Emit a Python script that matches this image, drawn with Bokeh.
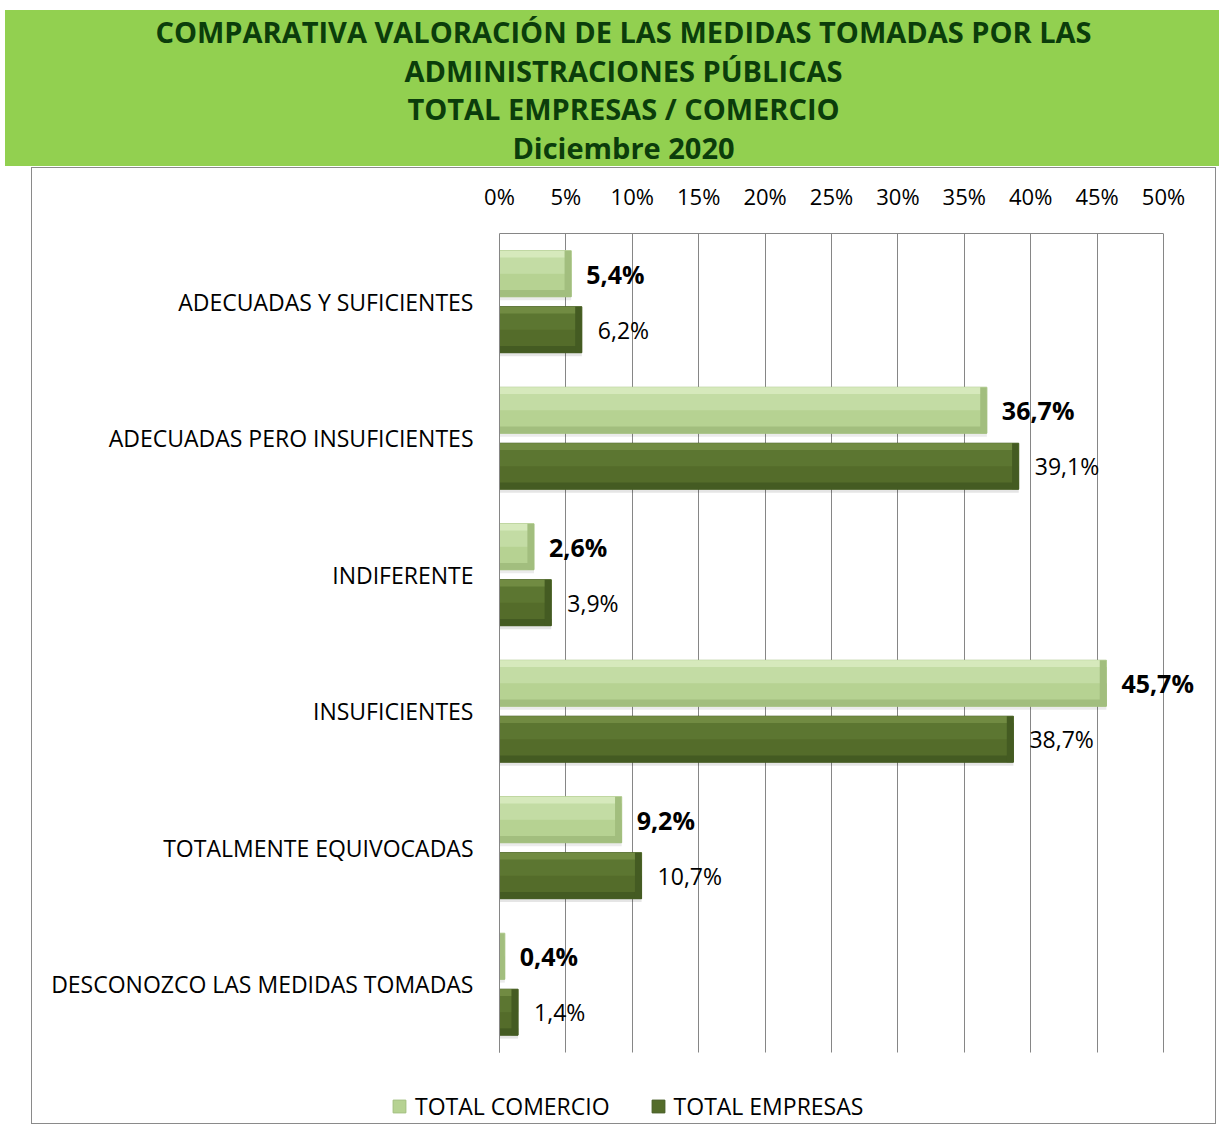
from bokeh.plotting import figure
from bokeh.models import (ColumnDataSource, Range1d, FixedTicker, Legend, LegendItem,
                          Div, Spacer, Grid)
from bokeh.layouts import column, row
from bokeh.core.properties import value
from bokeh.embed import file_html
from bokeh.resources import INLINE

# ---- data ----
categories = ["ADECUADAS Y SUFICIENTES", "ADECUADAS PERO INSUFICIENTES", "INDIFERENTE",
              "INSUFICIENTES", "TOTALMENTE EQUIVOCADAS", "DESCONOZCO LAS MEDIDAS TOMADAS"]
comercio = [5.4, 36.7, 2.6, 45.7, 9.2, 0.4]
empresas = [6.2, 39.1, 3.9, 38.7, 10.7, 1.4]
series_names = ["TOTAL COMERCIO", "TOTAL EMPRESAS"]
tick_values = [0, 5, 10, 15, 20, 25, 30, 35, 40, 45, 50]
tick_labels = ["0%", "5%", "10%", "15%", "20%", "25%", "30%", "35%", "40%", "45%", "50%"]
title_lines = ["COMPARATIVA VALORACIÓN DE LAS MEDIDAS TOMADAS POR LAS",
               "ADMINISTRACIONES PÚBLICAS", "TOTAL EMPRESAS / COMERCIO", "Diciembre 2020"]

FONT = "Open Sans"
GRID = "#868686"

n = len(categories)
ypos = [n - 0.5 - i for i in range(n)]   # category slots, first on top

BH = 0.337   # bar thickness (category units)
OFF = 0.205  # offset of each series from the slot centre
TH = 0.05    # bevel strip thickness

def col(vals, d):
    return [y + d for y in vals]

src = ColumnDataSource(dict(
    y=ypos,
    y_com=col(ypos, OFF), y_emp=col(ypos, -OFF),
    y_com_sh=col(ypos, OFF - 0.025), y_emp_sh=col(ypos, -OFF - 0.025),
    y_com_up=col(ypos, OFF + BH / 4), y_emp_up=col(ypos, -OFF + BH / 4),
    y_com_top=col(ypos, OFF + BH / 2 - TH / 2), y_com_bot=col(ypos, OFF - BH / 2 + TH / 2),
    y_emp_top=col(ypos, -OFF + BH / 2 - TH / 2), y_emp_bot=col(ypos, -OFF - BH / 2 + TH / 2),
    com=comercio, emp=empresas,
    com_edge=[max(v - 0.5, 0) for v in comercio],
    emp_edge=[max(v - 0.5, 0) for v in empresas],
    com_lbl=[f"{v:.1f}%".replace(".", ",") for v in comercio],
    emp_lbl=[f"{v:.1f}%".replace(".", ",") for v in empresas],
))

p = figure(width=1185, height=957,
           x_range=Range1d(-35.166, 53.54), y_range=Range1d(-0.535, n),
           x_axis_location="above",
           output_backend="svg", toolbar_location=None,
           min_border_left=0, min_border_right=7, min_border_top=65, min_border_bottom=0,
           background_fill_color="white", border_fill_color="white")
p.outline_line_color = None
p.styles = {"border": "1px solid #8a8a8a"}

# grid lines (only over the bar area)
p.xgrid.visible = False
p.ygrid.visible = False
g = Grid(dimension=0, ticker=FixedTicker(ticks=tick_values), grid_line_color=GRID, grid_line_width=1)
if "cross_bounds" in g.properties():
    g.cross_bounds = (0, n)
    p.add_layout(g)
else:
    gsrc = ColumnDataSource(dict(x=tick_values, y0=[0] * len(tick_values), y1=[n] * len(tick_values)))
    p.segment(x0="x", x1="x", y0="y0", y1="y1", source=gsrc, line_color=GRID, line_width=1)

# soft shadows
p.hbar(y="y_com_sh", left=0, right="com", height=BH, source=src,
       fill_color="#000000", fill_alpha=0.08, line_color=None)
p.hbar(y="y_emp_sh", left=0, right="emp", height=BH, source=src,
       fill_color="#000000", fill_alpha=0.10, line_color=None)

# main bars
r_com = p.hbar(y="y_com", left=0, right="com", height=BH, source=src,
               fill_color="#B6D292", line_color="#A2BF7E", line_width=1)
r_emp = p.hbar(y="y_emp", left=0, right="emp", height=BH, source=src,
               fill_color="#546C2A", line_color="#435A21", line_width=1)

# gradient / bevel strips
p.hbar(y="y_com_up", left=0, right="com", height=BH / 2, source=src, fill_color="#C3DCA4", line_color=None)
p.hbar(y="y_com_top", left=0, right="com", height=TH, source=src, fill_color="#D6E9BC", line_color=None)
p.hbar(y="y_com_bot", left=0, right="com", height=TH, source=src, fill_color="#A2BE7E", line_color=None)
p.hbar(y="y_com", left="com_edge", right="com", height=BH, source=src, fill_color="#A2BE7E", line_color=None)
p.hbar(y="y_emp_up", left=0, right="emp", height=BH / 2, source=src, fill_color="#5C7631", line_color=None)
p.hbar(y="y_emp_top", left=0, right="emp", height=TH, source=src, fill_color="#718B42", line_color=None)
p.hbar(y="y_emp_bot", left=0, right="emp", height=TH, source=src, fill_color="#445B22", line_color=None)
p.hbar(y="y_emp", left="emp_edge", right="emp", height=BH, source=src, fill_color="#445B22", line_color=None)

# value labels
p.text(x="com", y="y_com", text="com_lbl", source=src,
       x_offset=15, text_baseline="middle", text_align="left",
       text_font=value(FONT), text_font_style="bold", text_font_size="25px", text_color="black")
p.text(x="emp", y="y_emp", text="emp_lbl", source=src,
       x_offset=16, text_baseline="middle", text_align="left",
       text_font=value(FONT), text_font_size="23px", text_color="black")

# x axis (top)
xa = p.xaxis[0]
xa.ticker = FixedTicker(ticks=tick_values)
xa.bounds = (0, 50)
xa.major_label_overrides = {v: l for v, l in zip(tick_values, tick_labels)}
xa.major_tick_line_color = None
xa.minor_tick_line_color = None
xa.axis_line_color = GRID
xa.major_label_standoff = 17
xa.major_label_text_font = FONT
xa.major_label_text_font_size = "22px"
xa.major_label_text_color = "black"

# y axis (category labels), anchored at 0%
ya = p.yaxis[0]
ya.ticker = FixedTicker(ticks=ypos)
ya.major_label_overrides = {y: c for y, c in zip(ypos, categories)}
ya.fixed_location = 0
ya.bounds = (0, n)
ya.major_tick_line_color = None
ya.minor_tick_line_color = None
ya.axis_line_color = GRID
ya.major_label_standoff = 20
ya.major_label_text_font = FONT
ya.major_label_text_font_size = "23px"
ya.major_label_text_color = "black"

legend = Legend(items=[LegendItem(label=series_names[0], renderers=[r_com]),
                       LegendItem(label=series_names[1], renderers=[r_emp])],
                orientation="horizontal", location=(359, 3),
                glyph_width=16, glyph_height=16, label_standoff=8, spacing=40,
                padding=0, margin=0, border_line_color=None, background_fill_alpha=0,
                label_text_font=FONT, label_text_font_size="23px", label_text_color="black")
p.add_layout(legend, "center")

header_html = (
    '<div style="margin-top:5px;width:1214px;height:156px;background:#92D050;color:#0B3D0B;'
    f"font-family:'{FONT}';font-weight:bold;font-size:29px;line-height:38.7px;"
    'text-align:center;padding-top:3px;box-sizing:border-box;padding-left:23px;">'
    + "<br>".join(title_lines) + "</div>"
)
header = Div(text=header_html, width=1214, height=157, styles={"overflow": "visible"})

layout = column(header, row(Spacer(width=31, height=959), p))

open("out.html", "w").write(file_html(layout, INLINE))
